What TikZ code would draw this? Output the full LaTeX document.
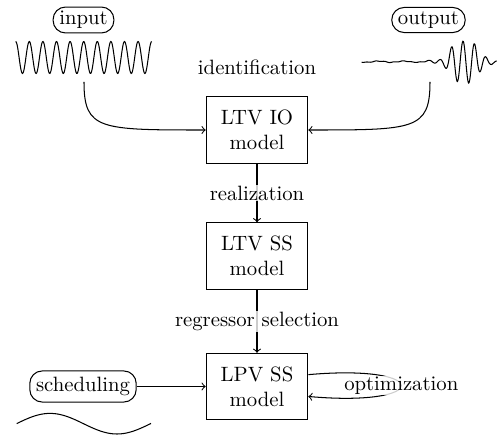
\documentclass[tikz,border=0pt]{standalone}
\tikzset{every picture/.style={line width=0.5pt}}
\tikzset{
  model/.style={draw, align=center, minimum width=49pt, minimum height=32pt, inner sep=2pt},
  signal/.style={draw, rounded corners=6pt, inner xsep=3pt, inner ysep=2pt},
  arrowtext/.style={fill=white, fill opacity=0.8, text opacity=1, inner sep=0.5pt},
}
\begin{document}
\begin{tikzpicture}[x=0.4825pt,y=0.4825pt,yscale=-1,xscale=1]
	\useasboundingbox (0,0) rectangle (498,435);

	% Model boxes
	\node [model] (io) at (257,130) {LTV IO\\model};
	\node [model] (ss) at (257,256) {LTV SS\\model};
	\node [model] (lpv) at (257,386.5) {LPV SS\\model};

	% Signal nodes
	\node [signal] (input) at (83.5,20) {input};
	\node [signal] (output) at (428.5,20) {output};
	\node [signal, minimum height=15pt] (sched) at (83,386.5) {scheduling};

	% Text Node
	\node (ident) at (257,67) {identification};

	% Input wave
	\draw [smooth] plot [domain=15.7:151.7, samples=240] (\x, {57.5-16*cos(26.4706*(\x-15.7))});
	% Output wave
	\draw [smooth] plot [domain=361.7:496.7, samples=300] (\x, {61.7-21*cos(31.3043*(\x-463))/(1+((\x-463)/(14+3*(\x>463)))^4)+0.6*sin(14.4*(\x-360))+0.3*sin(40*(\x-360))});
	% Scheduling wave
	\draw [smooth] plot [domain=16.7:151, samples=80] (\x, {423.7-10.3*cos(2.6866*(\x-50))});

	\coordinate (insig) at (84,82);
	\coordinate (outsig) at (430,82);

	% Connectors
	\draw [->] (insig) .. controls +(0,48) and +(-106,0) .. (io.west);
	\draw [->] (outsig) .. controls +(0,48) and +(106,0) .. (io.east);
	\draw [->] (io) -- node [arrowtext] {realization} (ss);
	\draw [->] (ss) -- node [arrowtext] {regressor selection} (lpv);
	\draw [->] (sched) -- (lpv);
	\draw [->] (lpv.13) .. controls +(124,-11) and +(124,11) .. node [arrowtext] {optimization} (lpv.-11);

\end{tikzpicture}
\end{document}
